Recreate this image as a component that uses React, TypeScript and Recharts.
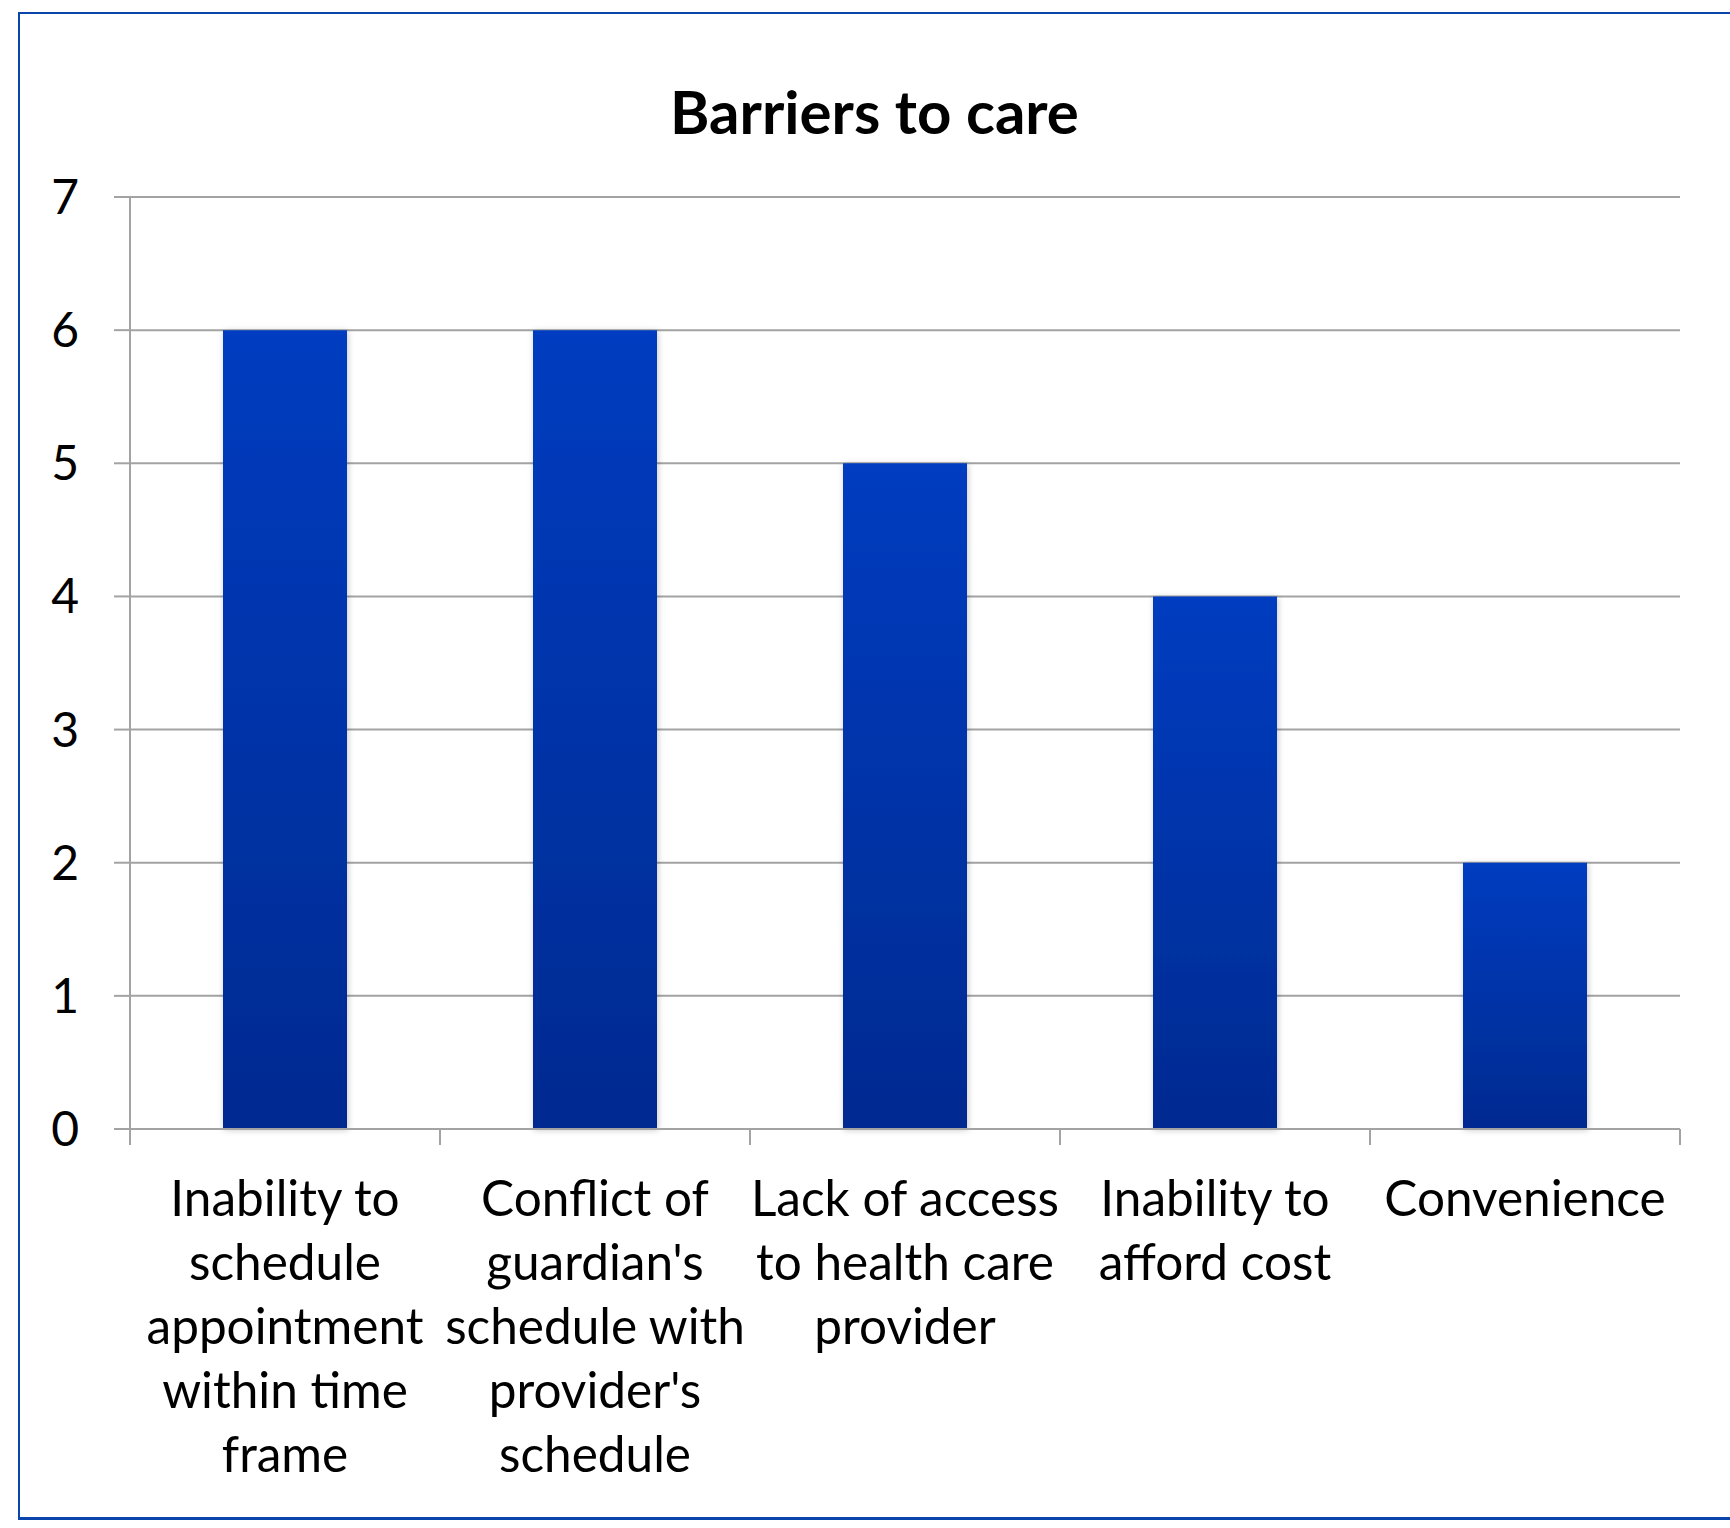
import React from "react";
import { Bar, BarChart, CartesianGrid, XAxis, YAxis } from "recharts";

// Survey counts per barrier, wrapped as the axis shows them
const LABEL_LINES: string[][] = [
  ["Inability to", "schedule", "appointment", "within time", "frame"],
  ["Conflict of", "guardian's", "schedule with", "provider's", "schedule"],
  ["Lack of access", "to health care", "provider"],
  ["Inability to", "afford cost"],
  ["Convenience"],
];
const CATEGORIES = LABEL_LINES.map((lines) => lines.join(" "));
const COUNTS = [6, 6, 5, 4, 2];
const Y_TICKS = [0, 1, 2, 3, 4, 5, 6, 7];

const data = CATEGORIES.map((name, i) => ({ name, count: COUNTS[i] }));

const FONT = "Lato, 'Open Sans', sans-serif";
const AXIS_GRAY = "#a3a3a3";
const TICK_LEN = 16;

// wrapped label plus tick marks on the band edges (Excel style)
function CategoryTick(props: any) {
  const { x, y, index, payload } = props;
  const lines = LABEL_LINES[index] ?? [];
  const half = payload?.offset ?? 0;
  const isLast = index === LABEL_LINES.length - 1;
  return (
    <g>
      <line x1={x - half} x2={x - half} y1={y} y2={y + TICK_LEN} stroke={AXIS_GRAY} strokeWidth={2} />
      {isLast && (
        <line x1={x + half} x2={x + half} y1={y} y2={y + TICK_LEN} stroke={AXIS_GRAY} strokeWidth={2} />
      )}
      <text x={x} y={y} textAnchor="middle" fill="#000" fontFamily={FONT} fontSize={49.5}>
        {lines.map((line, i) => (
          <tspan key={i} x={x} dy={i === 0 ? 87 : 64}>
            {line}
          </tspan>
        ))}
      </text>
    </g>
  );
}

export default function App() {
  return (
    <div
      style={{
        position: "absolute",
        left: 0,
        top: 0,
        width: 1730,
        height: 1528,
        overflow: "hidden",
        background: "#fff",
      }}
    >
      <div
        style={{
          position: "absolute",
          left: 18,
          top: 12,
          width: 1760,
          height: 1503,
          borderLeft: "2px solid #0b45ab",
          borderTop: "2px solid #0b45ab",
          borderBottom: "3px solid #0b45ab",
        }}
      />
      <div
        style={{
          position: "absolute",
          left: 19,
          width: 1711,
          top: 81,
          textAlign: "center",
          fontFamily: FONT,
          fontWeight: 700,
          fontSize: 60,
          lineHeight: "60px",
          color: "#000",
        }}
      >
        Barriers to care
      </div>
      <div style={{ position: "absolute", left: 0, top: 0 }}>
        <BarChart
          width={1730}
          height={1528}
          data={data}
          margin={{ top: 197, right: 50, bottom: 0, left: 0 }}
          barCategoryGap="30%"
        >
          <defs>
            <linearGradient id="barFill" x1="0" y1="0" x2="0" y2="1">
              <stop offset="0%" stopColor="#003cc0" />
              <stop offset="100%" stopColor="#002a90" />
            </linearGradient>
            <filter id="barShadow" x="-10%" y="-5%" width="120%" height="110%">
              <feDropShadow dx="1" dy="1" stdDeviation="3" floodColor="#000" floodOpacity="0.22" />
            </filter>
          </defs>
          <CartesianGrid vertical={false} stroke={AXIS_GRAY} strokeWidth={2} />
          <XAxis
            dataKey="name"
            tick={<CategoryTick />}
            tickLine={false}
            tickSize={0}
            tickMargin={0}
            interval={0}
            height={399}
            axisLine={{ stroke: AXIS_GRAY, strokeWidth: 2 }}
          />
          <YAxis
            width={130}
            domain={[0, 7]}
            ticks={Y_TICKS}
            interval={0}
            tickSize={TICK_LEN}
            tickMargin={35}
            tickLine={{ stroke: AXIS_GRAY, strokeWidth: 2 }}
            axisLine={{ stroke: AXIS_GRAY, strokeWidth: 2 }}
            tick={{ fill: "#000", fontFamily: FONT, fontSize: 48 }}
          />
          <Bar
            dataKey="count"
            fill="url(#barFill)"
            filter="url(#barShadow)"
            isAnimationActive={false}
          />
        </BarChart>
      </div>
    </div>
  );
}
